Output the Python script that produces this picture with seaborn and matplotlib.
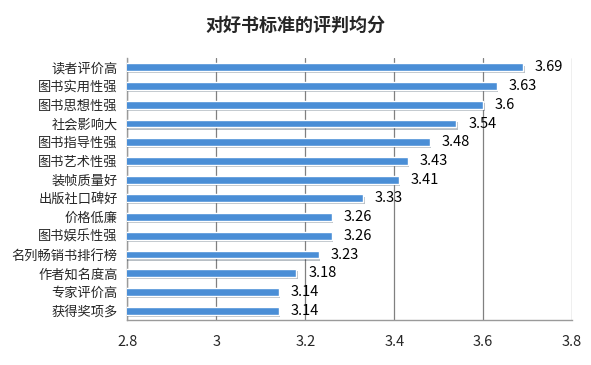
import matplotlib
matplotlib.use('Agg')
import matplotlib.pyplot as plt
import matplotlib.patheffects as pe
import seaborn as sns
import pandas as pd

# Dados
categorias = ['读者评价高', '图书实用性强', '图书思想性强', '社会影响大', '图书指导性强',
              '图书艺术性强', '装帧质量好', '出版社口碑好', '价格低廉', '图书娱乐性强',
              '名列畅销书排行榜', '作者知名度高', '专家评价高', '获得奖项多']
medias = [3.69, 3.63, 3.6, 3.54, 3.48, 3.43, 3.41, 3.33, 3.26, 3.26, 3.23, 3.18, 3.14, 3.14]
ticks_x = [2.8, 3, 3.2, 3.4, 3.6, 3.8]
titulo = '对好书标准的评判均分'

df = pd.DataFrame({'categoria': categorias, 'media': medias})

sns.set_style('white')
plt.rcParams['font.family'] = ['Noto Sans CJK SC', 'DejaVu Sans']

fig = plt.figure(figsize=(5.91, 3.65), dpi=100)
ax = fig.add_axes([0.2157, 0.1233, 0.7523, 0.7177])

sns.barplot(data=df, x='media', y='categoria', orient='h', color='#4a8ed6',
            width=0.42, saturation=1, ax=ax, zorder=3)

# sombra nas barras
for barra in ax.patches:
    barra.set_path_effects([pe.SimplePatchShadow(offset=(1, -1.5), alpha=0.3),
                            pe.Normal()])

ax.set_xlim(2.8, 3.8)
ax.set_xticks(ticks_x)
ax.set_xticklabels([f'{t:g}' for t in ticks_x], fontsize=10.5)
ax.tick_params(axis='x', length=0, pad=11)
ax.tick_params(axis='y', length=0, pad=7, labelsize=9.5)
ax.set_xlabel(None)
ax.set_ylabel(None)

ax.grid(axis='x', color='#808080', linewidth=0.9, zorder=0)
ax.set_axisbelow(True)
for lado in ['top', 'right']:
    ax.spines[lado].set_visible(False)
for lado in ['left', 'bottom']:
    ax.spines[lado].set_color('#9a9a9a')
    ax.spines[lado].set_linewidth(1)

ax.bar_label(ax.containers[0], labels=[f'{v:g}' for v in medias],
             padding=8.5, fontsize=10.5, color='#000000')

fig.text(0.5, 0.93, titulo, ha='center', va='center', fontsize=13, fontweight='bold')

fig.savefig('out.png', dpi=100)
plt.close()
